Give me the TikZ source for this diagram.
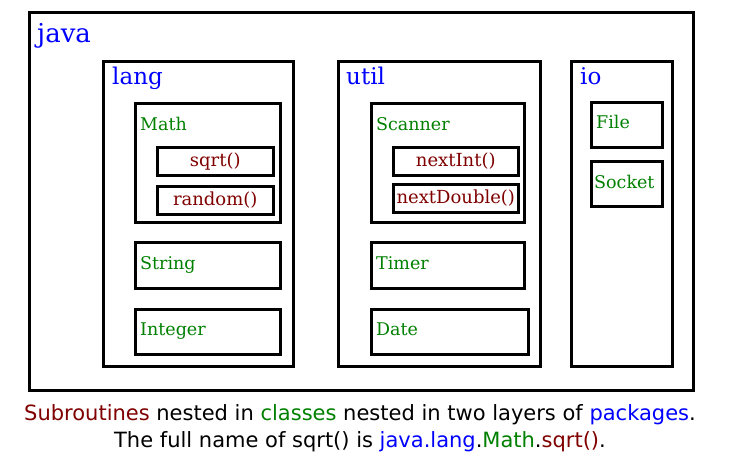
\documentclass[tikz,border=0pt]{standalone}
\usepackage{fontspec}
\setmainfont{DejaVu Serif}
\newfontfamily\capfont{DejaVu Sans}
\definecolor{pkgblue}{RGB}{0,0,255}
\definecolor{clsgreen}{RGB}{0,128,0}
\definecolor{subred}{RGB}{128,0,0}
\begin{document}
\begin{tikzpicture}[x=1pt,y=-1pt,
  box/.style={draw=black,line width=2.5pt,inner sep=0pt,anchor=north west},
  pkglbl/.style={anchor=base west,inner sep=0pt,text=pkgblue,font=\fontsize{23}{26}\selectfont},
  clslbl/.style={anchor=base west,inner sep=0pt,text=clsgreen,font=\fontsize{17.5}{20}\selectfont},
  sublbl/.style={inner sep=0pt,text=subred,font=\fontsize{18}{21}\selectfont}]
\useasboundingbox (0,0) rectangle (730,464);
% java
\node[box,minimum width=664pt,minimum height=378pt] (java) at (28,11) {};
\node[pkglbl,font=\fontsize{26}{30}\selectfont] (javal) at (37,42) {java};
% lang
\node[box,minimum width=190pt,minimum height=305pt] (lang) at (102,60) {};
\node[pkglbl] (langl) at (112,84) {lang};
\node[box,minimum width=145pt,minimum height=119pt] (math) at (134,102) {};
\node[clslbl] (mathl) at (140,130) {Math};
\node[box,minimum width=116pt,minimum height=28pt] (sqrt) at (156,146) {};
\node[sublbl] (sqrtl) at (sqrt.center) {sqrt()};
\node[box,minimum width=116pt,minimum height=28pt] (random) at (156,185) {};
\node[sublbl] (randoml) at (random.center) {random()};
\node[box,minimum width=145pt,minimum height=46pt] (string) at (134,241) {};
\node[clslbl] (stringl) at (140,269) {String};
\node[box,minimum width=145pt,minimum height=45pt] (integer) at (134,308) {};
\node[clslbl] (integerl) at (140,335) {Integer};
% util
\node[box,minimum width=202pt,minimum height=305pt] (util) at (337,60) {};
\node[pkglbl] (utill) at (346,84) {util};
\node[box,minimum width=153pt,minimum height=119pt] (scanner) at (370,102) {};
\node[clslbl] (scannerl) at (376,130) {Scanner};
\node[box,minimum width=125pt,minimum height=28pt] (nextint) at (392,146) {};
\node[sublbl] (nextintl) at (nextint.center) {nextInt()};
\node[box,minimum width=125pt,minimum height=28pt] (nextdouble) at (392,183) {};
\node[sublbl] (nextdoublel) at (nextdouble.center) {nextDouble()};
\node[box,minimum width=153pt,minimum height=46pt] (timer) at (370,241) {};
\node[clslbl] (timerl) at (376,269) {Timer};
\node[box,minimum width=157pt,minimum height=45pt] (date) at (370,308) {};
\node[clslbl] (datel) at (376,335) {Date};
% io
\node[box,minimum width=101pt,minimum height=305pt] (io) at (570,60) {};
\node[pkglbl] (iol) at (580,84) {io};
\node[box,minimum width=71pt,minimum height=45pt] (file) at (590,101) {};
\node[clslbl] (filel) at (596,128) {File};
\node[box,minimum width=71pt,minimum height=45pt] (socket) at (590,160) {};
\node[clslbl] (socketl) at (594,188) {Socket};
% caption
\node[anchor=base,inner sep=0pt,font=\capfont\fontsize{21}{24}\selectfont] (cap1) at (360,420)
  {\textcolor{subred}{Subroutines} nested in \textcolor{clsgreen}{classes} nested in two layers of \textcolor{pkgblue}{packages}.};
\node[anchor=base,inner sep=0pt,font=\capfont\fontsize{21}{24}\selectfont] (cap2) at (360,447)
  {The full name of sqrt() is \textcolor{pkgblue}{java.lang}.\textcolor{clsgreen}{Math}.\textcolor{subred}{sqrt()}.};
\end{tikzpicture}
\end{document}
